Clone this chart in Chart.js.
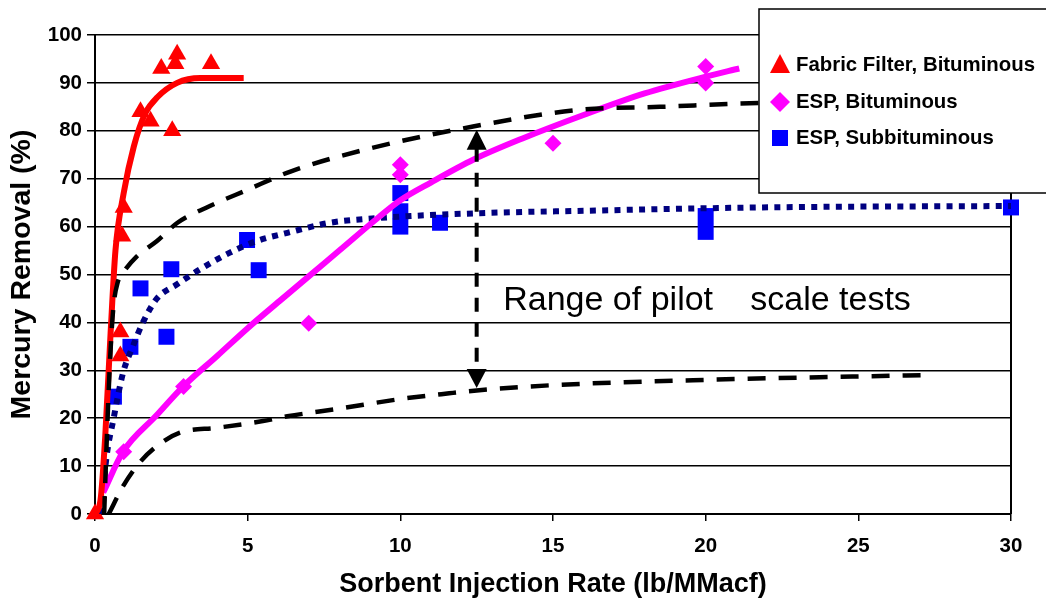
<!DOCTYPE html>
<html>
<head>
<meta charset="utf-8">
<script src="https://cdn.jsdelivr.net/npm/chart.js@4"></script>
<style>
  body { margin: 0; background: #fff; }
  #wrap { width: 1046px; height: 602px; }
</style>
</head>
<body>
<div id="wrap"><canvas id="hgChart"></canvas></div>
<script>
// =====================
// DATOS
// =====================
const xTicks = [0, 5, 10, 15, 20, 25, 30];
const yTicks = [0, 10, 20, 30, 40, 50, 60, 70, 80, 90, 100];

// measured points
const ffX = [0, 0.83, 0.83, 0.89, 0.94, 1.49, 1.82, 2.53, 2.17, 2.63, 2.69, 3.8];
const ffY = [0, 33, 38, 58, 64, 84, 82, 80, 93, 94, 96, 94];

const espBitX = [0.94, 2.9, 7, 10, 10, 15, 20, 20];
const espBitY = [13, 26.6, 39.8, 72.9, 70.8, 77.4, 93.4, 90];

const espSubX = [0.62, 1.16, 1.49, 2.5, 2.34, 4.98, 5.36, 10, 10, 10, 11.3, 20, 20, 30];
const espSubY = [24.5, 34.9, 47.1, 51.1, 37, 57.2, 50.9, 67, 63.2, 60, 60.8, 62.2, 58.9, 64];

// fitted curves
const ffFitX = [0, 0.18, 0.34, 0.51, 0.67, 0.94, 1.27, 1.65, 2.04, 2.69, 3.45, 4.87];
const ffFitY = [0, 2.9, 16.8, 37.7, 55, 67, 76.7, 83.7, 87, 90, 91, 91];

const bitFitX = [0.27, 0.92, 2, 2.9, 4, 5, 6.05, 7, 8, 9.3, 10, 11, 12.4, 14, 16, 18, 20, 21.1];
const bitFitY = [4.5, 13, 20.5, 26.7, 33, 38.8, 44.5, 49.6, 55, 62, 65.5, 69.2, 74, 78.4, 83.3, 87.8, 91.3, 93];

const subFitX = [0.22, 0.34, 0.62, 0.92, 1.24, 1.57, 2.03, 2.7, 3.34, 4.4, 5.3, 6.3, 7.7, 9.3, 12.6, 16, 21.75, 30];
const subFitY = [0, 9.9, 20.3, 29.5, 35, 40, 45, 48, 50.7, 54.5, 57, 58.7, 60.8, 61.8, 62.8, 63.3, 64, 64.3];

// range of pilot-scale tests (upper / lower envelopes)
const upperX = [0.3, 0.4, 0.5, 0.6, 0.75, 0.92, 1.37, 2.03, 2.7, 3.66, 5, 6.4, 8.8, 12.3, 15.9, 18.5, 21.75, 27];
const upperY = [0, 18, 33, 43, 48.5, 50.4, 53.8, 57, 60.8, 64, 67.7, 71.5, 76, 80.8, 84.4, 85, 85.8, 86];

const lowerX = [0.45, 0.92, 1.47, 2.03, 2.78, 4, 5.5, 6.3, 8, 10, 11.6, 12.5, 15, 20, 27.2];
const lowerY = [0, 5.8, 10.8, 14.2, 17, 18, 19.4, 20.4, 22, 24, 25.2, 25.8, 26.9, 28, 29];

const arrowX = 12.5;
const arrowRange = [26.3, 80.2];

const legendLabels = ["Fabric Filter, Bituminous", "ESP, Bituminous", "ESP, Subbituminous"];

const pts = (xs, ys) => xs.map((x, i) => ({ x: x, y: ys[i] }));

const FONT = "'Liberation Sans', Arial, sans-serif";

// =====================
// PLUGIN: borde, flecha, texto, leyenda
// =====================
const extras = {
    id: "extras",
    beforeDatasetsDraw(chart) {
        const { ctx, chartArea } = chart;
        ctx.save();
        ctx.strokeStyle = "#000";
        ctx.lineWidth = 2;
        ctx.beginPath();
        ctx.moveTo(chartArea.right, chartArea.top);
        ctx.lineTo(chartArea.right, chartArea.bottom);
        ctx.stroke();
        ctx.restore();
    },
    afterDatasetsDraw(chart) {
        const { ctx, scales } = chart;
        const x = scales.x.getPixelForValue(arrowX);
        const yTop = scales.y.getPixelForValue(arrowRange[1]);
        const yBot = scales.y.getPixelForValue(arrowRange[0]);
        ctx.save();
        ctx.strokeStyle = "#000";
        ctx.fillStyle = "#000";
        ctx.lineWidth = 4;
        ctx.setLineDash([14, 11]);
        ctx.beginPath();
        ctx.moveTo(x, yTop + 18);
        ctx.lineTo(x, yBot - 16);
        ctx.stroke();
        ctx.setLineDash([]);
        ctx.beginPath();
        ctx.moveTo(x, yTop);
        ctx.lineTo(x - 10, yTop + 20);
        ctx.lineTo(x + 10, yTop + 20);
        ctx.closePath();
        ctx.fill();
        ctx.beginPath();
        ctx.moveTo(x, yBot);
        ctx.lineTo(x - 10, yBot - 19);
        ctx.lineTo(x + 10, yBot - 19);
        ctx.closePath();
        ctx.fill();

        ctx.font = "34px " + FONT;
        ctx.textBaseline = "alphabetic";
        ctx.textAlign = "left";
        ctx.fillText("Range of pilot", scales.x.getPixelForValue(13.37), scales.y.getPixelForValue(42.6));
        ctx.fillText("scale tests", scales.x.getPixelForValue(21.46), scales.y.getPixelForValue(42.6));
        ctx.restore();
    },
    afterDraw(chart) {
        const { ctx } = chart;
        ctx.save();
        ctx.fillStyle = "#fff";
        ctx.fillRect(759, 9, 300, 184);
        ctx.strokeStyle = "#000";
        ctx.lineWidth = 1.5;
        ctx.strokeRect(759, 9, 300, 184);

        const mx = 780;
        const rows = [65, 102, 138];
        // triangle
        ctx.fillStyle = "#ff0000";
        ctx.beginPath();
        ctx.moveTo(mx, rows[0] - 11);
        ctx.lineTo(mx - 10, rows[0] + 8);
        ctx.lineTo(mx + 10, rows[0] + 8);
        ctx.closePath();
        ctx.fill();
        // diamond
        ctx.fillStyle = "#ff00ff";
        ctx.beginPath();
        ctx.moveTo(mx, rows[1] - 10);
        ctx.lineTo(mx + 10, rows[1]);
        ctx.lineTo(mx, rows[1] + 10);
        ctx.lineTo(mx - 10, rows[1]);
        ctx.closePath();
        ctx.fill();
        // square
        ctx.fillStyle = "#0000ff";
        ctx.fillRect(mx - 8, rows[2] - 8, 16, 16);

        ctx.fillStyle = "#000";
        ctx.font = "bold 20.4px " + FONT;
        ctx.textBaseline = "middle";
        legendLabels.forEach((t, i) => ctx.fillText(t, 796, rows[i]));
        ctx.restore();
    }
};

// =====================
// GRAFICO
// =====================
const lineStyle = (color, width, dash) => ({
    showLine: true,
    borderColor: color,
    borderWidth: width,
    borderDash: dash,
    pointRadius: 0,
    fill: false,
    cubicInterpolationMode: "monotone",
    clip: false,
    order: 0
});

new Chart(document.getElementById("hgChart"), {
    type: "scatter",
    data: {
        datasets: [
            { label: "upper", data: pts(upperX, upperY), ...lineStyle("#000", 4.5, [18, 13]) },
            { label: "lower", data: pts(lowerX, lowerY), ...lineStyle("#000", 4.5, [18, 13]) },
            { label: "ff fit", data: pts(ffFitX, ffFitY), ...lineStyle("#ff0000", 6, []) },
            { label: "bit fit", data: pts(bitFitX, bitFitY), ...lineStyle("#ff00ff", 6, []) },
            { label: "sub fit", data: pts(subFitX, subFitY), ...lineStyle("#000080", 6, [6, 6.3]) },
            {
                label: legendLabels[0],
                data: pts(ffX, ffY),
                pointStyle: "triangle",
                pointRadius: 10.5,
                backgroundColor: "#ff0000",
                borderWidth: 0,
                clip: false,
                order: 1
            },
            {
                label: legendLabels[1],
                data: pts(espBitX, espBitY),
                pointStyle: "rectRot",
                pointRadius: 8.5,
                backgroundColor: "#ff00ff",
                borderWidth: 0,
                clip: false,
                order: 1
            },
            {
                label: legendLabels[2],
                data: pts(espSubX, espSubY),
                pointStyle: "rect",
                pointRadius: 11.3,
                backgroundColor: "#0000ff",
                borderWidth: 0,
                clip: false,
                order: 1
            }
        ]
    },
    options: {
        responsive: true,
        maintainAspectRatio: false,
        animation: false,
        layout: {
            padding: { top: 35, right: 35, left: 0, bottom: 0 }
        },
        plugins: {
            legend: { display: false },
            tooltip: { enabled: false }
        },
        scales: {
            x: {
                type: "linear",
                min: 0,
                max: 30,
                afterFit: s => { s.height = 88; },
                afterBuildTicks: s => { s.ticks = xTicks.map(v => ({ value: v })); },
                ticks: {
                    color: "#000",
                    font: { family: FONT, size: 20.5, weight: "bold" },
                    padding: 13
                },
                grid: {
                    drawOnChartArea: false,
                    drawTicks: true,
                    tickLength: 7,
                    color: "#000",
                    lineWidth: 1.5
                },
                border: { color: "#000", width: 2 },
                title: {
                    display: true,
                    text: "Sorbent Injection Rate (lb/MMacf)",
                    color: "#000",
                    font: { family: FONT, size: 27, weight: "bold" },
                    padding: { top: 0, bottom: 1 }
                }
            },
            y: {
                min: 0,
                max: 100,
                afterFit: s => { s.width = 95; },
                afterBuildTicks: s => { s.ticks = yTicks.map(v => ({ value: v })); },
                ticks: {
                    color: "#000",
                    font: { family: FONT, size: 20.5, weight: "bold" },
                    padding: 5
                },
                grid: {
                    color: "#000",
                    lineWidth: 1.5,
                    tickLength: 8
                },
                border: { color: "#000", width: 2 },
                title: {
                    display: true,
                    text: "Mercury Removal (%)",
                    color: "#000",
                    font: { family: FONT, size: 28.5, weight: "bold" },
                    padding: { top: 5, bottom: 0 }
                }
            }
        }
    },
    plugins: [extras]
});
</script>
</body>
</html>
